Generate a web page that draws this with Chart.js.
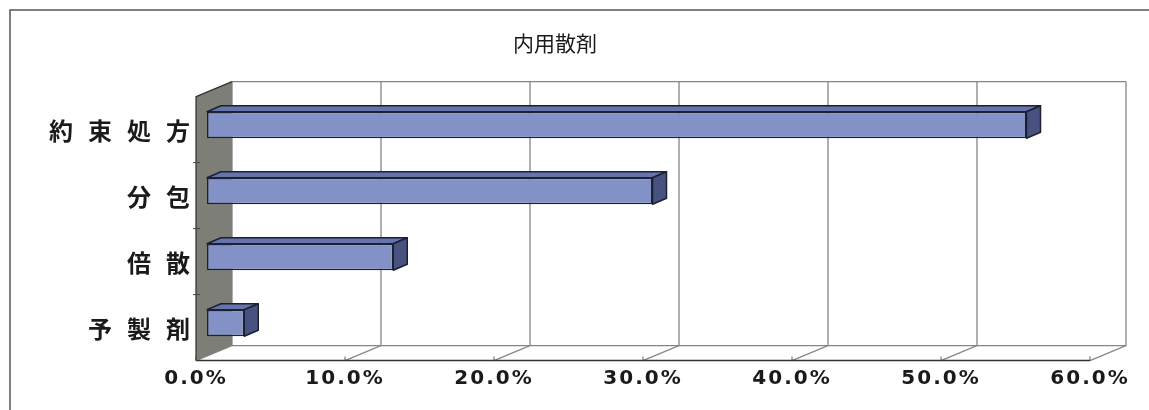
<!DOCTYPE html>
<html>
<head>
<meta charset="utf-8">
<script src="https://cdn.jsdelivr.net/npm/chart.js@4"></script>
<style>
  html, body { margin: 0; padding: 0; background: #fff; }
</style>
</head>
<body>
<canvas id="sanzaiChart" width="1149" height="410"></canvas>
<script>
// --------------------------
// Data
// --------------------------
const chartTitle = "内用散剤";
const categories = ["約束処方", "分包", "倍散", "予製剤"];
const shares = [55.0, 29.9, 12.5, 2.5];
const tickValues = [0, 10, 20, 30, 40, 50, 60];

// 3D look (pixels)
const BACK = { dx: 25, dy: -10.4 };
const FRONT = { dx: -11, dy: 4.6 };
const BAR_DEPTH = { dx: 14, dy: 6 };

// --------------------------
// Plugins
// --------------------------
const letterSpacing = { x: "2px", y: "15px" };

const spacedLabels = {
  id: "spacedLabels",
  beforeDraw(chart) {
    ["x", "y"].forEach((id) => {
      const s = chart.scales[id];
      if (!s || s._spaced) return;
      const orig = s.drawLabels;
      s.drawLabels = function (area) {
        const c = this.ctx;
        c.save();
        c.letterSpacing = letterSpacing[id];
        orig.call(this, area);
        c.restore();
      };
      s._spaced = true;
    });
  },
};

const walls = {
  id: "walls",
  beforeDraw(chart) {
    const ctx = chart.ctx;
    ctx.save();
    ctx.fillStyle = "#fff";
    ctx.fillRect(0, 0, chart.width, chart.height);
    // outer frame
    ctx.strokeStyle = "#555";
    ctx.lineWidth = 1.5;
    ctx.beginPath();
    ctx.moveTo(10, chart.height);
    ctx.lineTo(10, 10);
    ctx.lineTo(chart.width, 10);
    ctx.stroke();
    ctx.restore();
  },
  beforeDatasetsDraw(chart) {
    const ctx = chart.ctx;
    const x = chart.scales.x;
    const y = chart.scales.y;
    const top = chart.chartArea.top;
    const bottom = chart.chartArea.bottom;
    const x0 = x.getPixelForValue(tickValues[0]);
    const x1 = x.getPixelForValue(tickValues[tickValues.length - 1]);

    ctx.save();

    // floor
    ctx.fillStyle = "#fff";
    ctx.beginPath();
    ctx.moveTo(x0 + BACK.dx, bottom + BACK.dy);
    ctx.lineTo(x1 + BACK.dx, bottom + BACK.dy);
    ctx.lineTo(x1 + FRONT.dx, bottom + FRONT.dy);
    ctx.lineTo(x0 + FRONT.dx, bottom + FRONT.dy);
    ctx.closePath();
    ctx.fill();

    // back wall grid lines + floor diagonals
    ctx.strokeStyle = "#858585";
    ctx.lineWidth = 1.3;
    tickValues.forEach((v) => {
      const px = x.getPixelForValue(v);
      ctx.beginPath();
      ctx.moveTo(px + BACK.dx, top + BACK.dy);
      ctx.lineTo(px + BACK.dx, bottom + BACK.dy);
      ctx.lineTo(px + FRONT.dx, bottom + FRONT.dy);
      ctx.stroke();
      // small mark on the front edge
      ctx.beginPath();
      ctx.moveTo(px + FRONT.dx, bottom + FRONT.dy);
      ctx.lineTo(px + FRONT.dx, bottom + FRONT.dy - 4);
      ctx.stroke();
    });

    // back wall top edge and floor back edge
    ctx.beginPath();
    ctx.moveTo(x0 + BACK.dx, top + BACK.dy);
    ctx.lineTo(x1 + BACK.dx, top + BACK.dy);
    ctx.moveTo(x0 + BACK.dx, bottom + BACK.dy);
    ctx.lineTo(x1 + BACK.dx, bottom + BACK.dy);
    ctx.stroke();

    // floor front edge
    ctx.strokeStyle = "#333";
    ctx.lineWidth = 1.5;
    ctx.beginPath();
    ctx.moveTo(x0 + FRONT.dx, bottom + FRONT.dy);
    ctx.lineTo(x1 + FRONT.dx, bottom + FRONT.dy);
    ctx.stroke();

    // left side wall
    ctx.fillStyle = "#7d7e77";
    ctx.beginPath();
    ctx.moveTo(x0 + BACK.dx, top + BACK.dy);
    ctx.lineTo(x0 + BACK.dx, bottom + BACK.dy);
    ctx.lineTo(x0 + FRONT.dx, bottom + FRONT.dy);
    ctx.lineTo(x0 + FRONT.dx, top + FRONT.dy);
    ctx.closePath();
    ctx.fill();
    ctx.strokeStyle = "#2e2e2e";
    ctx.lineWidth = 1.2;
    ctx.beginPath();
    ctx.moveTo(x0 + FRONT.dx, bottom + FRONT.dy);
    ctx.lineTo(x0 + FRONT.dx, top + FRONT.dy);
    ctx.lineTo(x0 + BACK.dx, top + BACK.dy);
    ctx.stroke();

    // category separators on the side wall
    const band = (bottom - top) / categories.length;
    ctx.strokeStyle = "#444";
    ctx.lineWidth = 1;
    for (let i = 0; i < categories.length - 1; i++) {
      const py = y.getPixelForValue(i) + band / 2 + FRONT.dy;
      ctx.beginPath();
      ctx.moveTo(x0 + FRONT.dx - 3, py);
      ctx.lineTo(x0 + FRONT.dx + 4, py);
      ctx.stroke();
    }

    ctx.restore();
  },
  afterDatasetsDraw(chart) {
    const ctx = chart.ctx;
    const meta = chart.getDatasetMeta(0);
    ctx.save();
    ctx.strokeStyle = "#1c2130";
    ctx.lineWidth = 1.5;
    ctx.lineJoin = "round";
    meta.data.forEach((bar) => {
      const { x, y, base, height } = bar.getProps(["x", "y", "base", "height"], true);
      const t = y - height / 2;
      const b = y + height / 2;
      // top face
      ctx.fillStyle = "#6574ad";
      ctx.beginPath();
      ctx.moveTo(base, t);
      ctx.lineTo(base + BAR_DEPTH.dx, t - BAR_DEPTH.dy);
      ctx.lineTo(x + BAR_DEPTH.dx, t - BAR_DEPTH.dy);
      ctx.lineTo(x, t);
      ctx.closePath();
      ctx.fill();
      ctx.stroke();
      // end face
      ctx.fillStyle = "#485281";
      ctx.beginPath();
      ctx.moveTo(x, t);
      ctx.lineTo(x + BAR_DEPTH.dx, t - BAR_DEPTH.dy);
      ctx.lineTo(x + BAR_DEPTH.dx, b - BAR_DEPTH.dy);
      ctx.lineTo(x, b);
      ctx.closePath();
      ctx.fill();
      ctx.stroke();
    });
    ctx.restore();
  },
};

// --------------------------
// Chart
// --------------------------
const sanzaiChart = new Chart(document.getElementById("sanzaiChart"), {
  type: "bar",
  data: {
    labels: categories,
    datasets: [
      {
        data: shares,
        backgroundColor: "#8291c6",
        borderColor: "#1c2130",
        borderWidth: 1.5,
        borderSkipped: false,
        barPercentage: 0.4,
        categoryPercentage: 1.0,
      },
    ],
  },
  options: {
    indexAxis: "y",
    responsive: false,
    animation: false,
    layout: { padding: { left: 9, right: 48, top: 0, bottom: 0 } },
    plugins: {
      legend: { display: false },
      tooltip: { enabled: false },
      title: {
        display: true,
        text: chartTitle,
        color: "#1a1a1a",
        font: { family: "'Noto Sans CJK JP'", size: 21, weight: "normal", lineHeight: 1.2 },
        padding: { top: 30, bottom: 36.8 },
      },
    },
    scales: {
      x: {
        min: 0,
        max: 60,
        grid: { display: false, drawTicks: false },
        border: { display: false },
        afterFit(scale) {
          scale.height = 54;
        },
        afterBuildTicks(scale) {
          scale.ticks = tickValues.map((v) => ({ value: v }));
        },
        ticks: {
          padding: 11,
          labelOffset: FRONT.dx,
          color: "#1a1a1a",
          font: { family: "'DejaVu Sans'", size: 20, weight: "bold" },
          maxRotation: 0,
          callback: (v) => Number(v).toFixed(1) + "%",
        },
      },
      y: {
        grid: { display: false, drawTicks: false },
        border: { display: false },
        afterFit(scale) {
          scale.width = 198;
        },
        ticks: {
          padding: 2,
          labelOffset: 6,
          color: "#1a1a1a",
          font: { family: "'Noto Sans CJK JP'", size: 24, weight: "bold" },
        },
      },
    },
  },
  plugins: [walls, spacedLabels],
});
</script>
</body>
</html>
